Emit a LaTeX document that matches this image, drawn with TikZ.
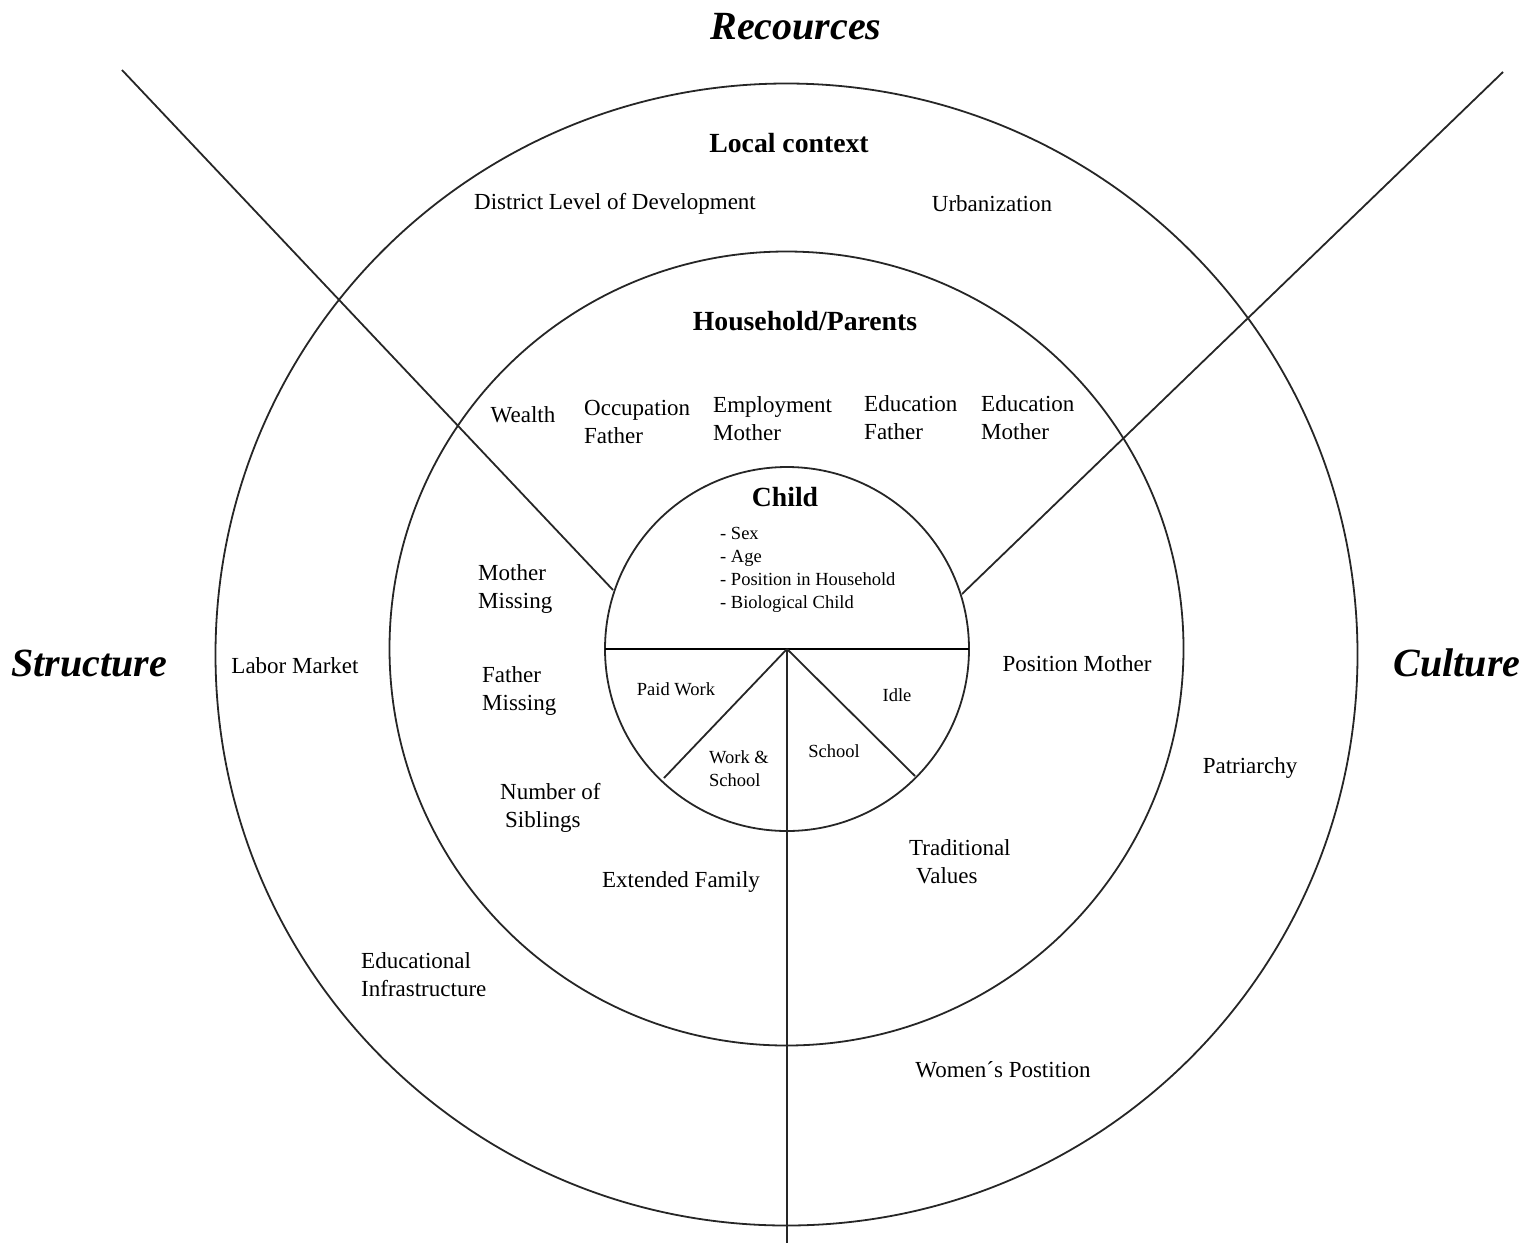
\documentclass[tikz,border=0pt]{standalone}
\usepackage{fontspec}
\setmainfont{Liberation Serif}
\usetikzlibrary{calc}
\begin{document}
\begin{tikzpicture}[x=1pt,y=-1pt,
  ring/.style={draw=black!85,line width=1.8pt},
  edge/.style={draw=black!85,line width=1.8pt},
  lab/.style={font=\fontsize{23}{28}\selectfont,inner sep=0pt,align=left},
  labc/.style={font=\fontsize{23}{28}\selectfont,inner sep=0pt,align=center},
  head/.style={font=\fontsize{27.7}{32}\selectfont\bfseries,inner sep=0pt},
  dim/.style={font=\fontsize{40}{46}\selectfont\bfseries\itshape,inner sep=0pt},
  small/.style={font=\fontsize{18.5}{23}\selectfont,inner sep=0pt,align=left}]
\useasboundingbox (0,0) rectangle (1525,1243);
% centres
\coordinate (C) at (787,649);
\coordinate (Co) at (786.5,654.5);
\coordinate (Cm) at (786.5,648.5);
% rings
\draw[ring] (Co) circle[radius=571];
\draw[ring] (Cm) circle[radius=397];
\draw[ring] (C) circle[radius=182];
% child split
\coordinate (hl) at ($(C)+(-182,0)$);
\coordinate (hr) at ($(C)+(182,0)$);
\draw[draw=black,line width=2.8pt] (hl) -- (hr);
\coordinate (sl) at (664,778);
\coordinate (sr) at (915,776);
\draw[edge] (C) -- (sl);
\draw[edge] (C) -- (sr);
\coordinate (bot) at (787,1243);
\draw[edge] (C) -- (bot);
% diagonals
\coordinate (tl) at (122,70);
\coordinate (il) at (613,590);
\coordinate (tr) at (1503,72);
\coordinate (ir) at (962,594);
\draw[edge] (tl) -- (il);
\draw[edge] (tr) -- (ir);
% dimension labels
\node[dim] (rec) at (796,27) {Recources};
\node[dim] (str) at (89,663) {Structure};
\node[dim] (cul) at (1457,663) {Culture};
% local context
\node[head] (lc) at (789,143) {Local context};
\node[labc] (dld) at (615,204) {District Level of Development};
\node[labc] (urb) at (992,204) {Urbanization};
\node[labc] (lm) at (295,666) {Labor Market};
\node[lab,anchor=west] (ei) at (361,975) {Educational\\Infrastructure};
\node[labc] (pat) at (1250,768) {Patriarchy};
\node[labc] (wp) at (1003,1070) {Women´s Postition};
% household
\node[head] (hp) at (805,321) {Household/Parents};
\node[labc] (wea) at (523,415) {Wealth};
\node[lab,anchor=west] (of) at (584,422) {Occupation\\Father};
\node[lab,anchor=west] (em) at (713,419) {Employment\\Mother};
\node[lab,anchor=west] (ef) at (864,418) {Education\\Father};
\node[lab,anchor=west] (emo) at (981,418) {Education\\Mother};
\node[lab,anchor=west] (mm) at (478,589) {Mother\\Missing};
\node[lab,anchor=west] (fm) at (482,691) {Father\\Missing};
\node[lab,anchor=west] (ns) at (500,808) {Number of\\\hspace*{5pt}Siblings};
\node[labc] (exf) at (681,882) {Extended Family};
\node[labc] (pm) at (1077,664) {Position Mother};
\node[lab,anchor=west] (tv) at (909,862) {Traditional\\\hspace*{7pt}Values};
% child
\node[head] (ch) at (785,497) {Child};
\node[small,anchor=west] (cl) at (720,570) {- Sex\\- Age\\- Position in Household\\- Biological Child};
\node[small] (pw) at (676,689) {Paid Work};
\node[small] (idl) at (897,695) {Idle};
\node[small,anchor=west] (ws) at (709,769) {Work \&\\School};
\node[small] (sch) at (834,751) {School};
\end{tikzpicture}
\end{document}
